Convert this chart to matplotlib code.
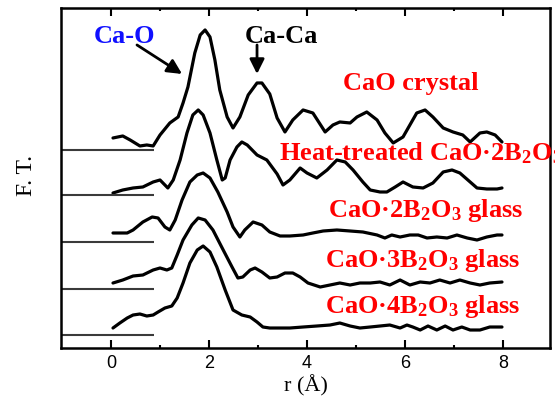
import numpy as np
import matplotlib
matplotlib.use("Agg")
import matplotlib.pyplot as plt

plt.rcParams['font.family'] = ['Liberation Serif', 'DejaVu Serif']
plt.rcParams['mathtext.fontset'] = 'custom'
plt.rcParams['mathtext.rm'] = 'Liberation Serif:bold'
plt.rcParams['mathtext.it'] = 'Liberation Serif:bold'
plt.rcParams['mathtext.bf'] = 'Liberation Serif:bold'

# ---- radial distribution (F.T. magnitude, arb. units) for each sample ----
r_crystal = [0.04, 0.24, 0.39, 0.59, 0.73, 0.86, 1.00, 1.20, 1.37, 1.47, 1.57, 1.71, 1.82, 1.92,
             2.02, 2.12, 2.22, 2.37, 2.49, 2.63, 2.80, 2.98, 3.08, 3.24, 3.39, 3.55, 3.71, 3.92,
             4.12, 4.37, 4.53, 4.67, 4.88, 5.02, 5.22, 5.43, 5.59, 5.76, 5.96, 6.24, 6.41, 6.57,
             6.78, 6.98, 7.18, 7.33, 7.53, 7.67, 7.84, 7.98]
ft_crystal = [12, 14, 10, 4, 5, 4, 15, 27, 33, 47, 63, 97, 115, 120,
              113, 90, 60, 33, 22, 33, 55, 67, 67, 56, 32, 18, 30, 40,
              37, 18, 25, 28, 27, 33, 38, 30, 17, 7, 13, 37, 40, 33,
              22, 18, 15, 8, 17, 18, 15, 8]

r_heat = [0.04, 0.24, 0.45, 0.65, 0.86, 1.00, 1.10, 1.16, 1.27, 1.41, 1.55, 1.67, 1.78, 1.88,
          2.02, 2.16, 2.27, 2.33, 2.43, 2.57, 2.67, 2.78, 2.98, 3.18, 3.39, 3.51, 3.65, 3.86,
          4.00, 4.20, 4.41, 4.61, 4.78, 4.94, 5.14, 5.29, 5.49, 5.63, 5.80, 5.96, 6.16, 6.37,
          6.57, 6.78, 6.96, 7.12, 7.33, 7.47, 7.67, 7.88, 7.98]
ft_heat = [2, 5, 7, 8, 13, 15, 10, 7, 15, 35, 62, 80, 85, 80,
           62, 35, 15, 17, 35, 48, 53, 50, 40, 35, 21, 10, 15, 27,
           22, 17, 25, 35, 33, 25, 13, 5, 3, 3, 8, 13, 8, 7,
           12, 23, 25, 22, 13, 7, 6, 6, 7]

r_glass2 = [0.04, 0.33, 0.45, 0.65, 0.84, 0.96, 1.10, 1.20, 1.31, 1.45, 1.61, 1.76, 1.88, 2.02,
            2.18, 2.37, 2.49, 2.63, 2.73, 2.90, 3.08, 3.24, 3.45, 3.65, 3.92, 4.12, 4.33, 4.61,
            4.88, 5.14, 5.43, 5.59, 5.73, 5.90, 6.10, 6.27, 6.45, 6.65, 6.86, 7.06, 7.27, 7.47,
            7.67, 7.88, 7.98]
ft_glass2 = [9, 9, 12, 20, 25, 24, 15, 12, 22, 42, 60, 67, 69, 64,
             50, 30, 15, 5, 12, 20, 17, 10, 6, 6, 7, 9, 11, 12,
             11, 10, 7, 4, 7, 5, 7, 7, 4, 5, 4, 7, 4, 2,
             5, 7, 7]

r_glass3 = [0.04, 0.24, 0.45, 0.65, 0.86, 1.00, 1.14, 1.24, 1.35, 1.47, 1.65, 1.78, 1.92, 2.08,
            2.29, 2.47, 2.59, 2.69, 2.84, 2.94, 3.08, 3.24, 3.39, 3.55, 3.71, 3.86, 4.02, 4.27,
            4.47, 4.67, 4.88, 5.08, 5.29, 5.49, 5.69, 5.90, 6.10, 6.31, 6.51, 6.71, 6.92, 7.12,
            7.33, 7.53, 7.73, 7.98]
ft_glass3 = [6, 9, 13, 14, 19, 21, 19, 21, 34, 49, 64, 71, 69, 59,
             39, 22, 11, 12, 19, 21, 17, 11, 12, 16, 16, 12, 6, 2,
             4, 6, 4, 6, 6, 7, 4, 9, 4, 7, 6, 9, 6, 9,
             6, 4, 6, 7]

r_glass4 = [0.04, 0.18, 0.33, 0.45, 0.59, 0.73, 0.86, 0.96, 1.10, 1.24, 1.35, 1.47, 1.61, 1.76,
            1.88, 2.02, 2.16, 2.33, 2.49, 2.67, 2.84, 2.98, 3.10, 3.24, 3.45, 3.65, 3.92, 4.20,
            4.47, 4.67, 4.88, 5.08, 5.29, 5.49, 5.69, 5.90, 6.04, 6.16, 6.31, 6.47, 6.65, 6.82,
            6.98, 7.16, 7.33, 7.53, 7.73, 7.98]
ft_glass4 = [7, 12, 17, 20, 21, 19, 20, 23, 27, 29, 37, 52, 72, 85,
             89, 83, 68, 45, 25, 20, 18, 13, 8, 7, 7, 7, 8, 9,
             10, 12, 9, 7, 8, 9, 10, 7, 10, 8, 5, 9, 5, 9,
             5, 8, 5, 5, 8, 8]

# vertical offset of each trace (top to bottom)
offsets = [198, 153, 106, 59, 13]
curves = [(r_crystal, ft_crystal), (r_heat, ft_heat), (r_glass2, ft_glass2),
          (r_glass3, ft_glass3), (r_glass4, ft_glass4)]

labels = ["CaO crystal",
          r"Heat-treated CaO·2B$_2$O$_3$",
          r"CaO·2B$_2$O$_3$ glass",
          r"CaO·3B$_2$O$_3$ glass",
          r"CaO·4B$_2$O$_3$ glass"]
label_pos = [(4.73, 258), (3.43, 188), (4.43, 131), (4.37, 81), (4.37, 35)]

fig = plt.figure(figsize=(5.55, 3.98), dpi=100)
ax = fig.add_axes([0.110, 0.1256, 0.881, 0.8544])

for (r, ft), off in zip(curves, offsets):
    ax.plot(r, np.array(ft) + off, color='black', lw=2.3,
            solid_joinstyle='round', solid_capstyle='round')

# zero lines for each trace
ax.hlines(offsets, -1.1, 0.88, color='#3a3a3a', lw=1.5)

for txt, (x, y) in zip(labels, label_pos):
    ax.text(x, y, txt, color='red', fontsize=19, fontweight='bold',
            ha='left', va='baseline', clip_on=False)

ax.text(-0.35, 305, "Ca-O", color='#1010ff', fontsize=19, fontweight='bold',
        ha='left', va='baseline')
ax.text(2.73, 305, "Ca-Ca", color='black', fontsize=19, fontweight='bold',
        ha='left', va='baseline')
ax.annotate('', xy=(1.45, 274), xytext=(0.53, 303),
            arrowprops=dict(arrowstyle='-|>', color='black', lw=2, mutation_scale=22,
                            shrinkA=0, shrinkB=0))
ax.annotate('', xy=(2.98, 274), xytext=(2.98, 303),
            arrowprops=dict(arrowstyle='-|>', color='black', lw=2, mutation_scale=22,
                            shrinkA=0, shrinkB=0))

ax.set_xlim(-1.02, 8.96)
ax.set_ylim(0, 340)
ax.set_xticks([0, 2, 4, 6, 8])
ax.set_xticks([1, 3, 5, 7], minor=True)
ax.set_yticks([])
ax.tick_params(axis='x', which='both', direction='in', top=True, width=1.5, pad=5)
ax.tick_params(axis='x', which='major', length=5.5)
ax.tick_params(axis='x', which='minor', length=2.5)
for lab in ax.get_xticklabels():
    lab.set_fontfamily('Liberation Sans')
    lab.set_fontsize(13)
for sp in ax.spines.values():
    sp.set_linewidth(1.8)

ax.set_xlabel("r (Å)", fontsize=16, labelpad=2)
fig.text(0.047, 0.56, "F. T.", rotation=90, fontsize=17, ha='center', va='center')

fig.savefig("out.png", dpi=100)
